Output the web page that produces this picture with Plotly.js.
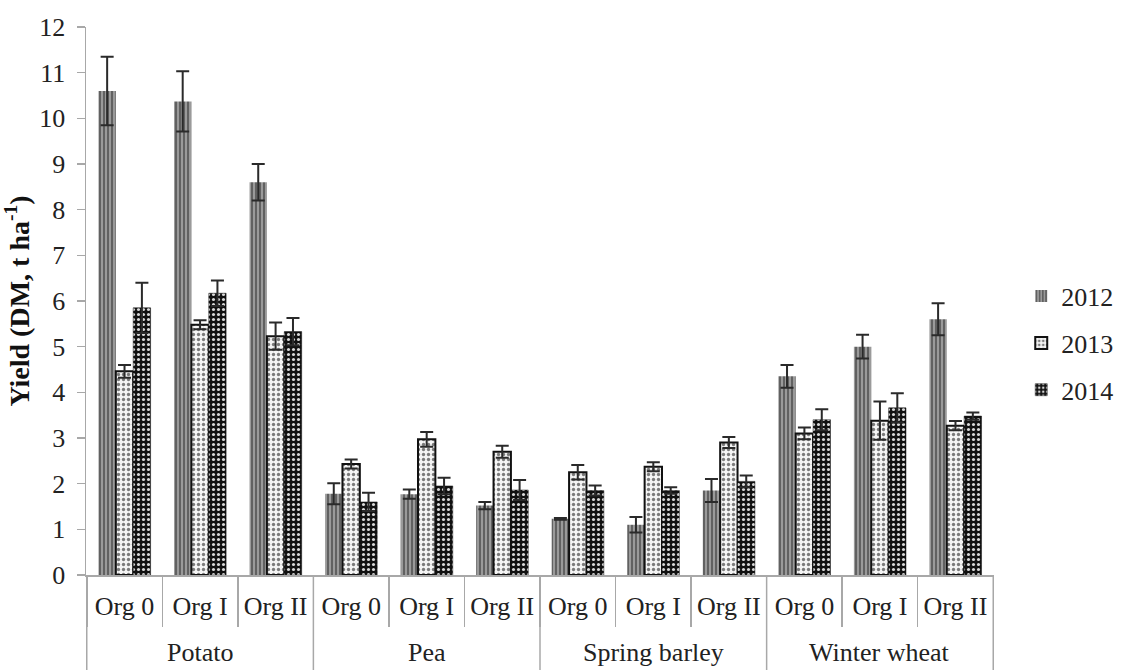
<!DOCTYPE html>
<html>
<head>
<meta charset="utf-8">
<script src="https://cdn.plot.ly/plotly-3.0.1.min.js"></script>
<style>
  html, body { margin: 0; padding: 0; background: #fff; }
  #chart { width: 1124px; height: 670px; }
</style>
</head>
<body>
<div id="chart"></div>
<script>
// Crop groups and fertilisation treatments
const crops = ["Potato", "Pea", "Spring barley", "Winter wheat"];
const treatments = ["Org 0", "Org I", "Org II"];

// Dry-matter yield, t/ha, per year (order: crop × treatment)
const yield2012 = [10.6, 10.37, 8.6, 1.78, 1.77, 1.52, 1.23, 1.1, 1.85, 4.35, 5.0, 5.6];
const yield2013 = [4.46, 5.48, 5.23, 2.43, 2.97, 2.7, 2.25, 2.37, 2.9, 3.1, 3.38, 3.27];
const yield2014 = [5.85, 6.17, 5.33, 1.6, 1.95, 1.86, 1.85, 1.85, 2.05, 3.4, 3.66, 3.48];

// Standard errors
const err2012 = [0.75, 0.66, 0.4, 0.23, 0.1, 0.08, 0.02, 0.17, 0.25, 0.25, 0.26, 0.35];
const err2013 = [0.14, 0.1, 0.3, 0.1, 0.16, 0.13, 0.16, 0.1, 0.12, 0.13, 0.42, 0.1];
const err2014 = [0.55, 0.28, 0.3, 0.2, 0.18, 0.22, 0.11, 0.07, 0.13, 0.23, 0.32, 0.08];

const years = ["2012", "2013", "2014"];

const serif = "Liberation Serif, Times New Roman, serif";
const axisGrey = "#a8a8a8";

// One category per crop × treatment, labelled with the treatment only
const keys = [], keyLabels = [];
crops.forEach(c => treatments.forEach(t => { keys.push(c + " / " + t); keyLabels.push(t); }));

const nT = treatments.length;

// Crop names centred under their treatments
const cropAnnotations = crops.map((c, i) => ({
  text: c, xref: "x", yref: "paper",
  x: i * nT + (nT - 1) / 2, y: -0.142,
  xanchor: "center", yanchor: "middle", showarrow: false,
  font: { family: serif, size: 26, color: "#222" }
}));

// Long separators between crop groups, running down past the crop names
const cropDividers = [];
for (let i = 0; i <= crops.length; i++) {
  cropDividers.push({
    type: "line", xref: "x", yref: "paper",
    x0: i * nT - 0.5, x1: i * nT - 0.5, y0: 0, y1: -0.2,
    line: { color: axisGrey, width: 1.5 }
  });
}

function errBar(arr) {
  return { type: "data", array: arr, visible: true, color: "#2a2a2a", thickness: 2, width: 6.5 };
}

const traces = [
  {
    type: "bar", name: years[0], legendgroup: "a", x: keys, y: yield2012,
    marker: {
      color: "#8c8c8c",
      line: { color: "#8c8c8c", width: 0 },
      pattern: { shape: "|", fgcolor: "#3a3a3a", bgcolor: "#9a9a9a", size: 4, solidity: 0.3 }
    },
    error_y: errBar(err2012)
  },
  {
    type: "bar", name: years[1], legendgroup: "b", x: keys, y: yield2013,
    marker: {
      color: "#ffffff",
      line: { color: "#111111", width: 2 },
      pattern: { shape: ".", fgcolor: "#7a7a7a", bgcolor: "#f4f4f4", size: 5, solidity: 0.35 }
    },
    error_y: errBar(err2013)
  },
  {
    type: "bar", name: years[2], legendgroup: "c", x: keys, y: yield2014,
    marker: {
      color: "#111111",
      line: { color: "#111111", width: 0.5 },
      pattern: { shape: ".", fgcolor: "#d8d8d8", bgcolor: "#111111", size: 5, solidity: 0.3 }
    },
    error_y: errBar(err2014)
  }
];

const layout = {
  width: 1124, height: 670,
  margin: { l: 86, r: 130, t: 27, b: 95, autoexpand: false },
  paper_bgcolor: "#fff", plot_bgcolor: "#fff",
  font: { family: serif, size: 26, color: "#222" },
  barmode: "group",
  bargap: 0.31,
  bargroupgap: 0,
  showlegend: true,
  legend: {
    x: 1.03, xanchor: "left", y: 0.423, yanchor: "middle",
    font: { family: serif, size: 26, color: "#222" },
    tracegroupgap: 10, itemwidth: 30
  },
  xaxis: {
    type: "category",
    tickmode: "array", tickvals: keys, ticktext: keyLabels,
    showline: true, linecolor: axisGrey, linewidth: 1.5,
    ticks: "outside", tickson: "boundaries", ticklen: 50, tickcolor: axisGrey, tickwidth: 1.5,
    ticklabelstandoff: 7,
    tickangle: 0,
    tickfont: { family: serif, size: 26, color: "#222" },
    showgrid: false, zeroline: false, mirror: false
  },
  yaxis: {
    range: [0, 12], dtick: 1, tick0: 0,
    showline: true, linecolor: axisGrey, linewidth: 1.5,
    ticks: "outside", ticklen: 8, tickcolor: axisGrey, tickwidth: 1.5,
    ticklabelstandoff: 6,
    showgrid: false, zeroline: false,
    tickfont: { family: serif, size: 26, color: "#222" },
    title: {
      text: "<b>Yield (DM, t ha<sup>-1</sup>)</b>",
      font: { family: serif, size: 28, color: "#111" },
      standoff: 8
    }
  },
  annotations: cropAnnotations,
  shapes: cropDividers
};

Plotly.newPlot("chart", traces, layout, { displayModeBar: false, staticPlot: true });
</script>
</body>
</html>
